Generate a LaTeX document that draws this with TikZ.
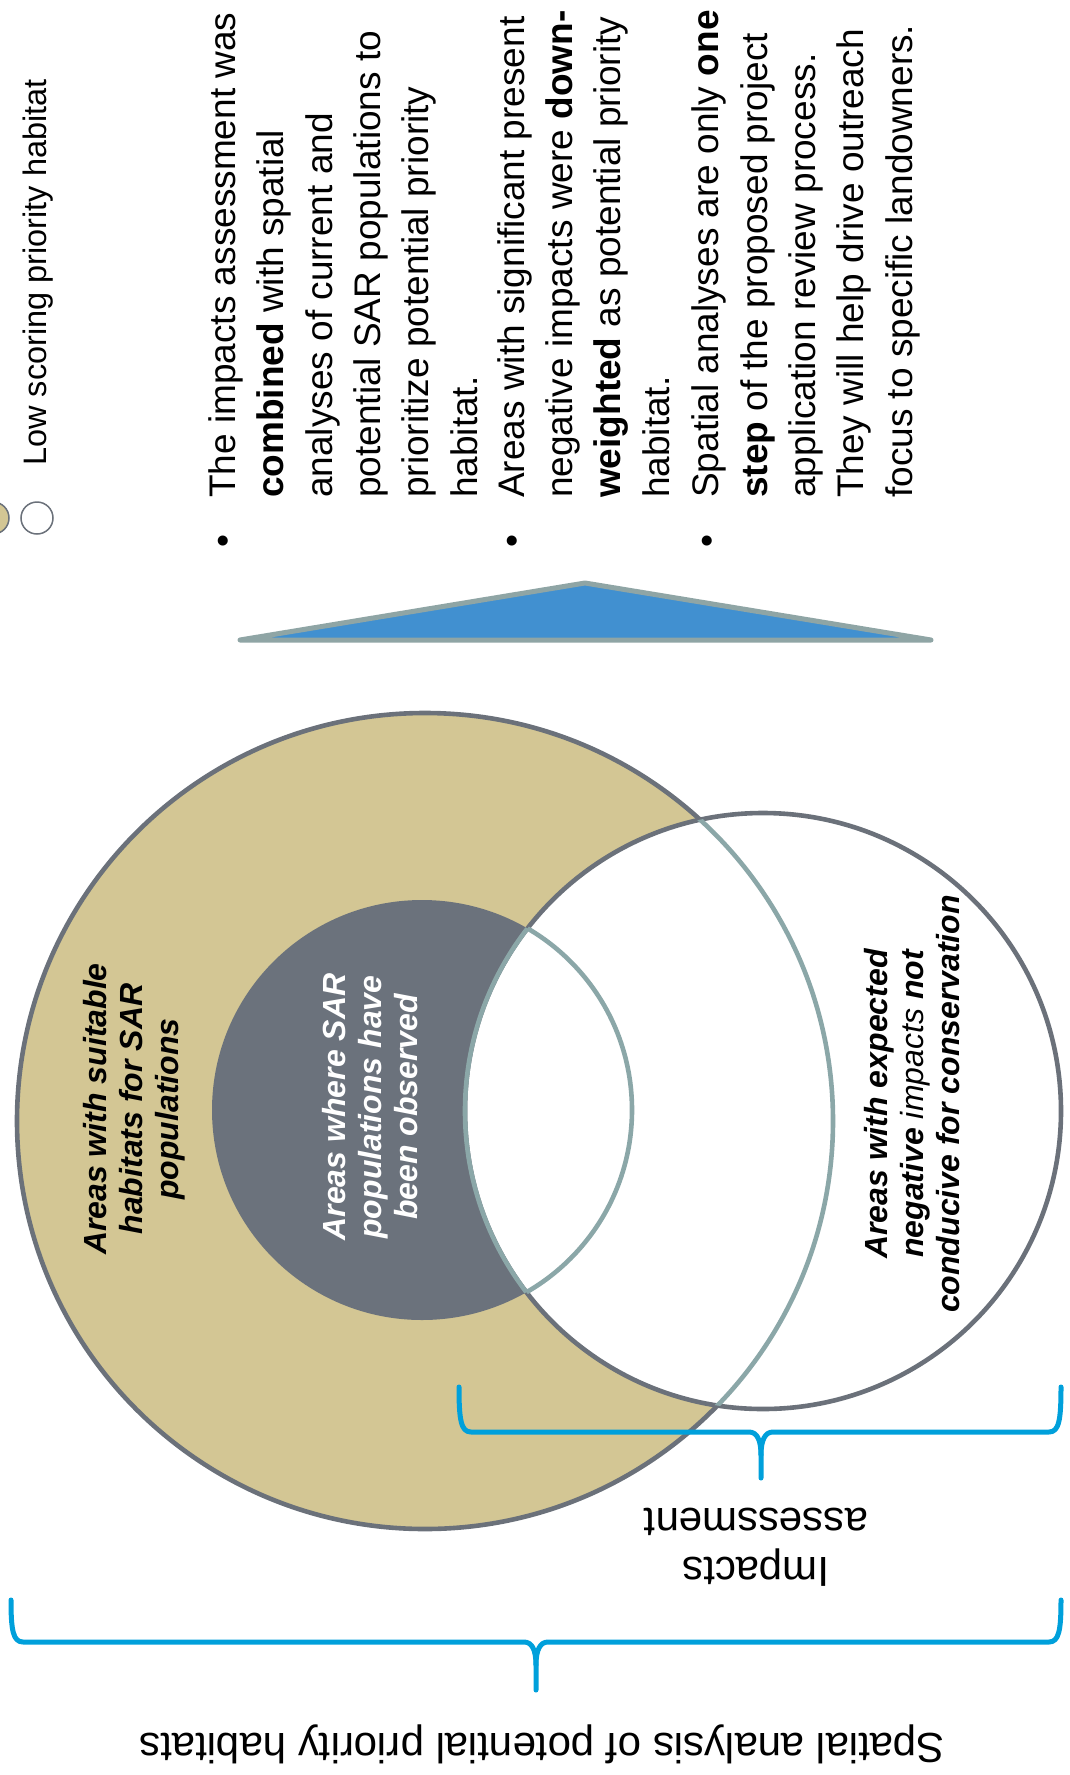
\documentclass[tikz,border=0pt]{standalone}
\usepackage{fontspec}
\setmainfont{Liberation Sans}
\definecolor{tanC}{RGB}{211,198,148}
\definecolor{darkC}{RGB}{107,113,122}
\definecolor{innerC}{RGB}{107,114,124}
\definecolor{tealC}{RGB}{139,167,168}
\definecolor{blueC}{RGB}{65,144,208}
\definecolor{triEdge}{RGB}{143,165,165}
\definecolor{braceC}{RGB}{0,160,219}
\begin{document}
\begin{tikzpicture}[x=1pt,y=-1pt,
  bul/.style={rotate=90, anchor=base west, inner sep=0pt, font=\fontsize{37}{48.3}\selectfont, align=left},
  lab/.style={rotate=90, align=center, inner sep=0pt, font=\fontsize{32}{36}\selectfont\bfseries\itshape},
  botlab/.style={rotate=180, align=center, inner sep=0pt, font=\fontsize{42}{49}\selectfont},
  bracestyle/.style={draw=braceC, line width=5pt, line cap=round, line join=round},
  outl/.style={draw=darkC, line width=4.6pt},
  tealline/.style={draw=tealC, line width=4.6pt}]
\useasboundingbox (0,0) rectangle (1069,1775);
\fill[white] (0,0) rectangle (1069,1775);
\begin{scope}
\clip (0,0) rectangle (1069,1775);
% legend
\path[fill=tanC, draw=darkC, line width=1.5pt] (-7,518) circle[radius=16];
\path[fill=white, draw=darkC, line width=1.5pt] (37,518) circle[radius=16];
\node[rotate=90, anchor=base west, inner sep=0pt, font=\fontsize{32.5}{40}\selectfont] (leg) at (46,466) {Low scoring priority habitat};
% bullets (multi-line nodes: base = last line)
\node[bul] (b1) at (235.5,548) {•};
\node[bul] (p1) at (477,498) {The impacts assessment was\\\textbf{combined} with spatial\\analyses of current and\\potential SAR populations to\\prioritize potential priority\\habitat.};
\node[bul] (b2) at (524,548) {•};
\node[bul] (p2) at (669,498) {Areas with significant present\\negative impacts were \textbf{down-}\\\textbf{weighted} as potential priority\\habitat.};
\node[bul] (b3) at (719,548) {•};
\node[bul] (p3) at (912,498) {Spatial analyses are only \textbf{one}\\\textbf{step} of the proposed project\\application review process.\\They will help drive outreach\\focus to specific landowners.};
% triangle
\path[fill=blueC, draw=triEdge, line width=5pt, line join=round, line cap=round] (240,640) -- (585,583) -- (931,640) -- cycle;
% circles
\coordinate (cT) at (425,1121);
\coordinate (cG) at (422,1110);
\coordinate (cW) at (763,1111);
\path[fill=tanC, outl] (cT) circle[radius=408];
\fill[innerC] (cG) circle[radius=210];
\path[fill=white, outl] (cW) circle[radius=298];
\begin{scope}
\clip (cW) circle[radius=298];
\path[tealline] (cT) circle[radius=408];
\path[tealline] (cG) circle[radius=210];
\end{scope}
\begin{scope}
\clip (cG) circle[radius=210];
\path[tealline] (cW) circle[radius=298];
\end{scope}
\node[lab] (la) at (134,1109) {Areas with suitable\\habitats for SAR\\populations};
\node[lab, text=white] (lb) at (370,1107) {Areas where SAR\\populations have\\been observed};
\node[lab] (lc) at (912,1104) {Areas with expected\\negative {\mdseries impacts} not\\conducive for conservation};
% braces
\draw[bracestyle] (459,1387) .. controls (459,1420) and (461,1432) .. (471,1432) -- (749,1432) .. controls (757,1432) and (761,1440) .. (761,1455) -- (761,1478);
\draw[bracestyle] (761,1455) .. controls (761,1440) and (765,1432) .. (773,1432) -- (1049,1432) .. controls (1059,1432) and (1061,1420) .. (1061,1387);
\draw[bracestyle] (11,1600) .. controls (11,1630) and (13,1642) .. (23,1642) -- (524,1642) .. controls (532,1642) and (536,1650) .. (536,1665) -- (536,1690);
\draw[bracestyle] (536,1665) .. controls (536,1650) and (540,1642) .. (548,1642) -- (1049,1642) .. controls (1059,1642) and (1061,1630) .. (1061,1600);
\node[botlab] (ia) at (756,1547) {Impacts\\assessment};
\node[botlab] (sa) at (542,1744) {Spatial analysis of potential priority habitats};
\end{scope}
\end{tikzpicture}
\end{document}
